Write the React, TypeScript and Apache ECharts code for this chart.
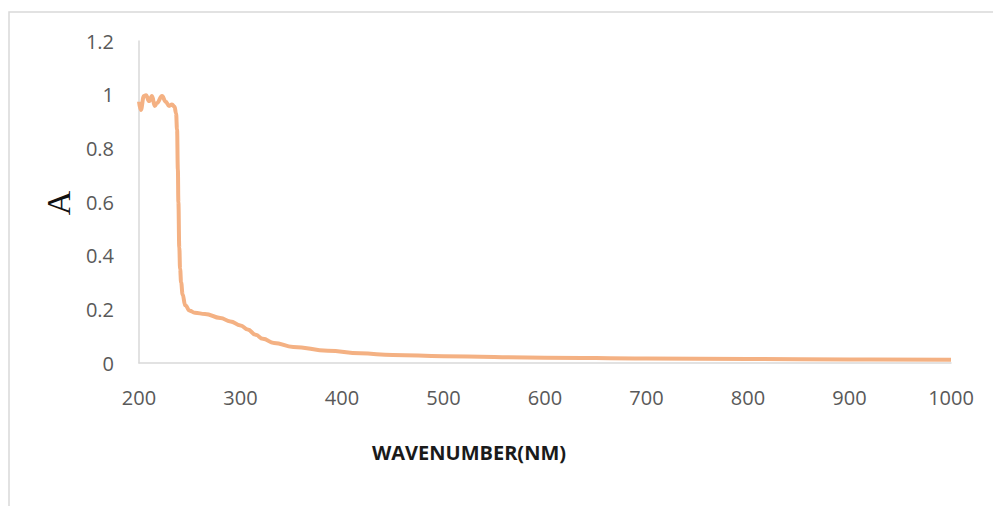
import React, { useEffect, useRef } from "react";
import * as echarts from "echarts";

const wavelength = [
  200, 201.7, 204.9, 206.9, 209.9, 212.8, 215.5, 217.7, 222.7, 226.3, 229.6, 232.5,
  235, 236.5, 237.5, 238.3, 238.8, 239.7, 240.5, 241.5, 243, 245.5, 250, 255,
  265, 280, 290, 300, 307, 315, 322, 333, 352, 386, 418, 450, 500, 600, 700, 800, 900, 1000,
];
const absorbance = [
  0.974, 0.943, 0.995, 0.998, 0.976, 0.995, 0.958, 0.969, 0.995, 0.974, 0.958, 0.963,
  0.955, 0.93, 0.87, 0.72, 0.6, 0.43, 0.35, 0.3, 0.255, 0.215, 0.195, 0.187,
  0.183, 0.168, 0.155, 0.14, 0.125, 0.105, 0.09, 0.075, 0.06, 0.046, 0.036, 0.03, 0.025, 0.02, 0.017, 0.015, 0.013, 0.012,
];
const xTicks = { min: 200, max: 1000, interval: 100 };
const yTicks = { min: 0, max: 1.2, interval: 0.2 };

export default function App() {
  const ref = useRef<HTMLDivElement>(null);
  useEffect(() => {
    if (!ref.current) return;
    const chart = echarts.init(ref.current, undefined, { renderer: "svg" });
    const labelFont = { color: "#595959", fontSize: 20, fontFamily: "Open Sans" };
    chart.setOption({
      animation: false,
      backgroundColor: "#ffffff",
      grid: { left: 139, right: 42, top: 41, bottom: 143 },
      xAxis: {
        type: "value",
        min: xTicks.min,
        max: xTicks.max,
        interval: xTicks.interval,
        axisLine: { show: true, lineStyle: { color: "#d9d9d9", width: 1.5 } },
        axisTick: { show: false },
        splitLine: { show: false },
        axisLabel: { ...labelFont, margin: 24, formatter: (v: number) => String(v) },
      },
      yAxis: {
        type: "value",
        min: yTicks.min,
        max: yTicks.max,
        interval: yTicks.interval,
        axisLine: { show: true, lineStyle: { color: "#d9d9d9", width: 1.5 } },
        axisTick: { show: false },
        splitLine: { show: false },
        axisLabel: { ...labelFont, margin: 25, formatter: (v: number) => String(Math.round(v * 10) / 10) },
      },
      graphic: [
        {
          type: "rect",
          shape: { x: 9, y: 12, width: 1100, height: 600 },
          style: { fill: "none", stroke: "#d9d9d9", lineWidth: 1.5 },
          silent: true,
        },
        {
          type: "text",
          x: 469,
          y: 452,
          style: {
            text: "WAVENUMBER(NM)",
            font: "bold 20px 'Open Sans'",
            fill: "#1a1a1a",
            align: "center",
            verticalAlign: "middle",
          },
        },
        {
          type: "text",
          x: 58,
          y: 203,
          rotation: Math.PI / 2,
          style: {
            text: "A",
            font: "34px 'Liberation Serif'",
            fill: "#111111",
            align: "center",
            verticalAlign: "middle",
          },
        },
      ],
      series: [
        {
          type: "line",
          data: wavelength.map((w, i) => [w, absorbance[i]]),
          showSymbol: false,
          smooth: 0.45,
          smoothMonotone: "x",
          lineStyle: { color: "#F4B183", width: 4 },
        },
      ],
    });
    return () => chart.dispose();
  }, []);
  return (
    <div
      ref={ref}
      style={{ position: "fixed", left: 0, top: 0, width: 993, height: 506 }}
    />
  );
}
